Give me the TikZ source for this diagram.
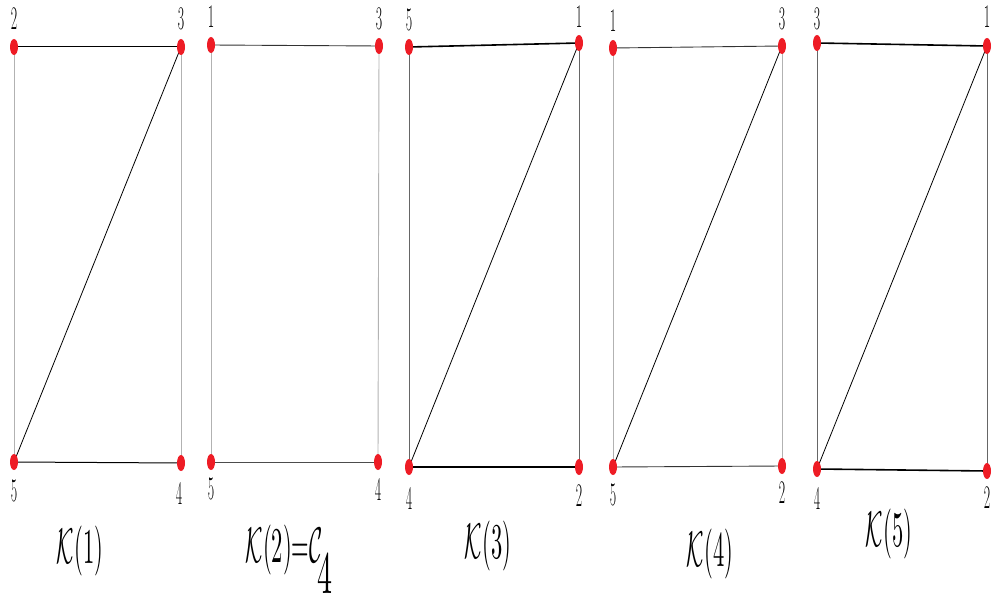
\documentclass[tikz,border=0pt]{standalone}
\usetikzlibrary{shapes.geometric,backgrounds}
\definecolor{vred}{HTML}{EE1C25}
\newcommand{\cond}[1]{\scalebox{0.42}[1]{#1}}
\newcommand{\bigcond}[1]{\scalebox{2.25}[5]{\normalsize #1}}
\tikzset{
  vert/.style={ellipse,fill=vred,draw=none,minimum width=8pt,minimum height=16pt,inner sep=0pt},
  lab/.style={inner sep=0pt,font=\fontsize{33}{33}\selectfont},
  captxt/.style={inner sep=0pt},
  hedge/.style={black,line width=1pt},
  hthick/.style={black,line width=1.6pt},
  vlight/.style={black!30,line width=0.9pt},
  vdark/.style={black!60,line width=0.9pt},
  diag/.style={black,line width=0.8pt}
}
\begin{document}
\begin{tikzpicture}[x=1pt,y=-1pt]
\useasboundingbox (0,0) rectangle (995,604);
% graph 1
\node[vert] (a1) at (14,47) {};
\node[vert] (b1) at (181,47) {};
\node[vert] (c1) at (14,462) {};
\node[vert] (d1) at (181,463) {};
\node[lab] (la1) at (14,19) {\cond{2}};
\node[lab] (lb1) at (181,19) {\cond{3}};
\node[lab] (lc1) at (14,491) {\cond{5}};
\node[lab] (ld1) at (179,493) {\cond{4}};
% graph 2
\node[vert] (a2) at (211,45) {};
\node[vert] (b2) at (379,46) {};
\node[vert] (c2) at (211,462) {};
\node[vert] (d2) at (378,462) {};
\node[lab] (la2) at (211,17) {\cond{1}};
\node[lab] (lb2) at (379,19) {\cond{3}};
\node[lab] (lc2) at (211,489) {\cond{5}};
\node[lab] (ld2) at (378,489) {\cond{4}};
% graph 3
\node[vert] (a3) at (409,47) {};
\node[vert] (b3) at (579,43) {};
\node[vert] (c3) at (409,467) {};
\node[vert] (d3) at (579,467) {};
\node[lab] (la3) at (409,20) {\cond{5}};
\node[lab] (lb3) at (579,17) {\cond{1}};
\node[lab] (lc3) at (409,498) {\cond{4}};
\node[lab] (ld3) at (579,496) {\cond{2}};
% graph 4
\node[vert] (a4) at (613,48) {};
\node[vert] (b4) at (782,46) {};
\node[vert] (c4) at (613,467) {};
\node[vert] (d4) at (782,466) {};
\node[lab] (la4) at (613,21) {\cond{1}};
\node[lab] (lb4) at (782,19) {\cond{3}};
\node[lab] (lc4) at (613,495) {\cond{5}};
\node[lab] (ld4) at (782,493) {\cond{2}};
% graph 5
\node[vert] (a5) at (817,43) {};
\node[vert] (b5) at (987,46) {};
\node[vert] (c5) at (817,469) {};
\node[vert] (d5) at (987,471) {};
\node[lab] (la5) at (817,19) {\cond{3}};
\node[lab] (lb5) at (987,17) {\cond{1}};
\node[lab] (lc5) at (817,498) {\cond{4}};
\node[lab] (ld5) at (987,498) {\cond{2}};
% captions
\node[captxt] (k1) at (80,551) {\bigcond{$\mathcal{K}(1)$}};
\node[captxt] (k2) at (284,550) {\bigcond{$\mathcal{K}(2){=}\mathcal{C}$}};
\node[captxt] (k2s) at (325,573) {\scalebox{3}[6]{\normalsize 4}};
\node[captxt] (k3) at (488,546) {\bigcond{$\mathcal{K}(3)$}};
\node[captxt] (k4) at (710,554) {\bigcond{$\mathcal{K}(4)$}};
\node[captxt] (k5) at (889,534) {\bigcond{$\mathcal{K}(5)$}};
\begin{pgfonlayer}{background}
\draw[hedge] (a1.center) -- (b1.center);
\draw[hedge] (c1.center) -- (d1.center);
\draw[vlight] (a1.center) -- (c1.center);
\draw[vlight] (b1.center) -- (d1.center);
\draw[diag] (c1.center) -- (b1.center);
\draw[black!80,line width=0.9pt] (a2.center) -- (b2.center);
\draw[black!70,line width=0.9pt] (c2.center) -- (d2.center);
\draw[vlight] (a2.center) -- (c2.center);
\draw[vlight] (b2.center) -- (d2.center);
\draw[hthick] (a3.center) -- (b3.center);
\draw[hthick] (c3.center) -- (d3.center);
\draw[vdark] (a3.center) -- (c3.center);
\draw[vdark] (b3.center) -- (d3.center);
\draw[diag] (c3.center) -- (b3.center);
\draw[black!80,line width=0.9pt] (a4.center) -- (b4.center);
\draw[black!80,line width=0.9pt] (c4.center) -- (d4.center);
\draw[vlight] (a4.center) -- (c4.center);
\draw[vlight] (b4.center) -- (d4.center);
\draw[diag] (c4.center) -- (b4.center);
\draw[hthick] (a5.center) -- (b5.center);
\draw[hthick] (c5.center) -- (d5.center);
\draw[vdark] (a5.center) -- (c5.center);
\draw[vdark] (b5.center) -- (d5.center);
\draw[diag] (c5.center) -- (b5.center);
\end{pgfonlayer}
\end{tikzpicture}
\end{document}
